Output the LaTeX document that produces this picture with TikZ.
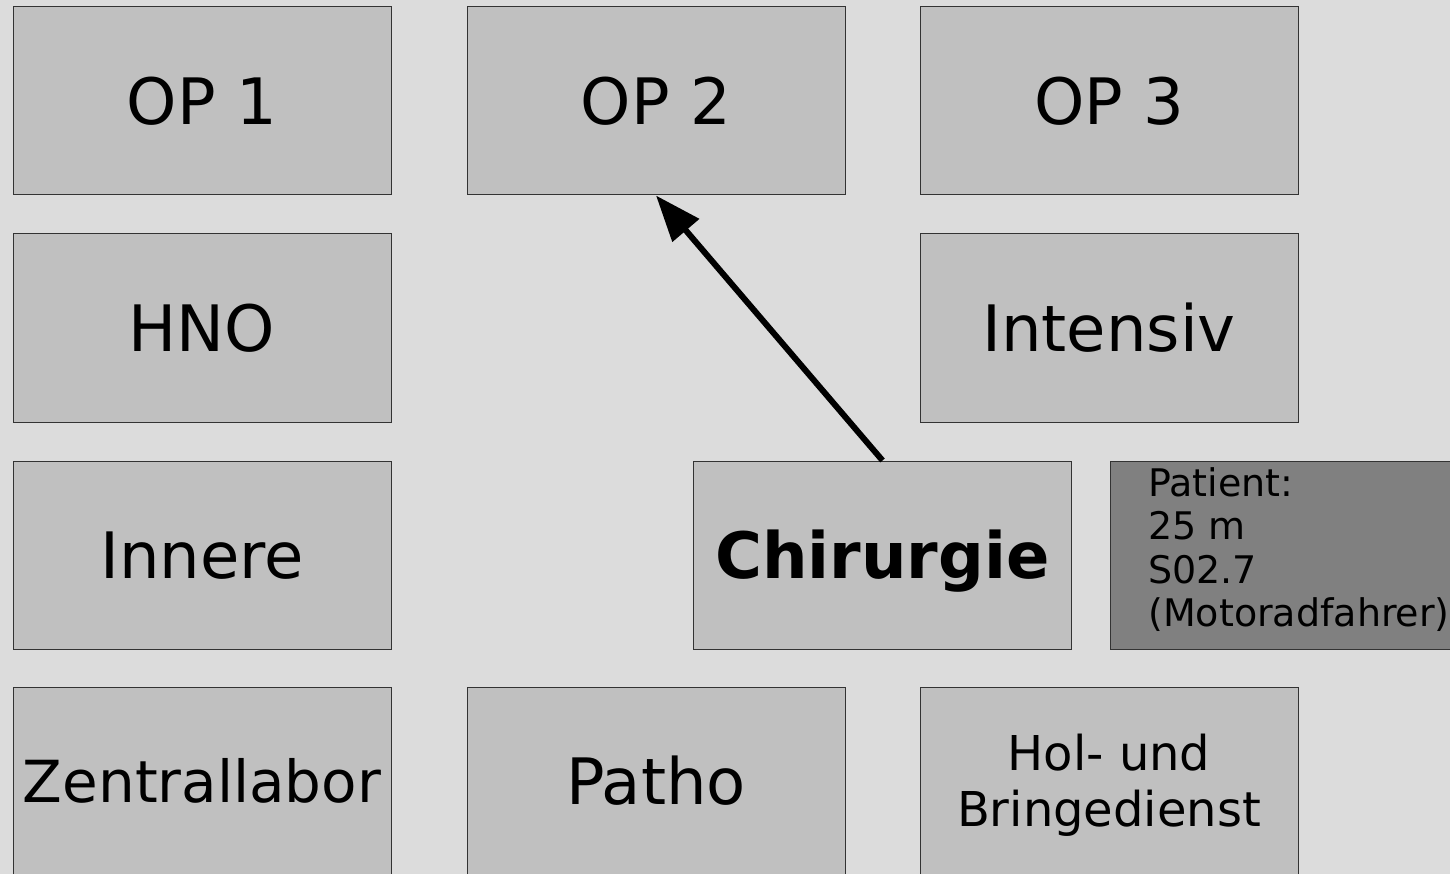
\documentclass[tikz,border=0pt]{standalone}
\usepackage{fontspec}
\setmainfont{DejaVu Sans}
\usetikzlibrary{arrows.meta}
\definecolor{bgc}{HTML}{DCDCDC}
\definecolor{boxc}{HTML}{C0C0C0}
\definecolor{patc}{HTML}{808080}
\definecolor{edgec}{HTML}{333333}
\tikzset{
  room/.style={rectangle, draw=edgec, line width=1pt, fill=boxc, inner sep=0pt,
    minimum width=378pt, minimum height=188pt, text height=46.7pt, text depth=0pt,
    font=\fontsize{64}{74}\selectfont},
  multi/.style={text height=, text depth=},
  flow/.style={line width=6pt, -{Triangle[length=46pt,width=34pt]}}
}
\begin{document}
\begin{tikzpicture}[x=1pt,y=-1pt]
\useasboundingbox (0,0) rectangle (1450,874);
\fill[bgc] (0,0) rectangle (1450,874);
\clip (0,0) rectangle (1450,874);
\node[room] (op1) at (202,101) {OP 1};
\node[room] (op2) at (656,101) {OP 2};
\node[room] (op3) at (1109,101) {OP 3};
\node[room] (hno) at (202,328) {HNO};
\node[room] (int) at (1109,328) {Intensiv};
\node[room] (inn) at (202,555) {Innere};
\node[room, font=\fontsize{64}{74}\selectfont\bfseries] (chi) at (882.5,555) {Chirurgie};
\node[room, multi, fill=patc, font=\fontsize{38}{43.6}\selectfont] (pat) at (1299,555)
  {\raisebox{0pt}[30pt][148pt]{\begin{tabular}[t]{@{}l@{}}Patient:\\25 m\\S02.7\\(Motoradfahrer)\end{tabular}}};
\node[room, font=\fontsize{58}{68}\selectfont, text height=42.3pt] (zen) at (202,781) {Zentrallabor};
\node[room] (pth) at (656,781) {Patho};
\node[room, multi, font=\fontsize{48}{56.8}\selectfont] (hol) at (1109,781)
  {\raisebox{0pt}[40pt][62pt]{\begin{tabular}[t]{@{}c@{}}Hol- und\\Bringedienst\end{tabular}}};
\draw[flow] (chi.north) -- (op2.south);
\end{tikzpicture}
\end{document}
